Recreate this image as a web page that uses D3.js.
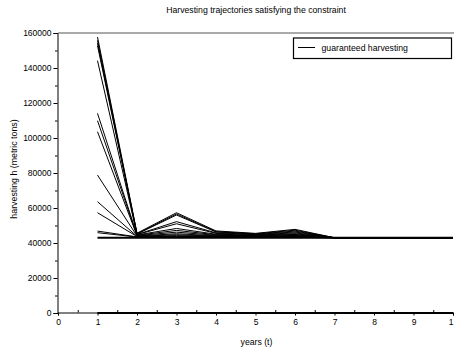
<!DOCTYPE html>
<html><head><meta charset="utf-8">
<script src="https://cdn.jsdelivr.net/npm/d3@7"></script>
<style>
body{margin:0;background:#fff;}
text{font-family:"Liberation Sans",Arial,Helvetica,sans-serif;fill:#000;}
</style></head>
<body>
<svg id="c" width="454" height="352"></svg>
<script>
const years = [1,2,3,4,5,6,7,8,9,10];
// harvesting trajectories (metric tons), one array per trajectory
const traj01 = [157700,45600,57300,46900,45500,47800,43000,43000,43000,43000];
const traj02 = [155800,45300,56600,46500,45300,47300,43000,43000,43000,43000];
const traj03 = [154300,45100,56000,46300,45100,46800,43000,43000,43000,43000];
const traj04 = [152800,44900,52200,45800,44900,46300,43000,43000,43000,43000];
const traj05 = [144200,44800,51000,45500,44700,45800,43000,43000,43000,43000];
const traj06 = [114100,44600,48300,45000,44500,45300,43000,43000,43000,43000];
const traj07 = [109900,44400,47200,44700,44300,44900,43000,43000,43000,43000];
const traj08 = [103600,44200,46200,44400,44100,44600,43000,43000,43000,43000];
const traj09 = [78800,44000,45300,44100,43900,44300,43000,43000,43000,43000];
const traj10 = [63600,43800,44700,43900,43700,44000,43000,43000,43000,43000];
const traj11 = [57300,43700,44200,43700,43500,43700,43000,43000,43000,43000];
const traj12 = [46800,43500,43800,43500,43300,43400,43000,43000,43000,43000];
const traj13 = [45900,43400,43500,43300,43200,43200,43000,43000,43000,43000];
const trajectories = [traj01,traj02,traj03,traj04,traj05,traj06,traj07,traj08,traj09,traj10,traj11,traj12,traj13];
const guaranteed = [43000,43000,43000,43000,43000,43000,43000,43000,43000,43000];
const zeroLine = [0,0,0,0,0,0,0,0,0,0];
const xTicks = [0,1,2,3,4,5,6,7,8,9,10];
const xTickLabels = ["0","1","2","3","4","5","6","7","8","9","1"];
const yTicks = [0,20000,40000,60000,80000,100000,120000,140000,160000];
const title = "Harvesting trajectories satisfying the constraint";
const xLabel = "years (t)";
const yLabel = "harvesting h  (metric tons)";
const legendLabel = "guaranteed harvesting";

const svg = d3.select("#c");
const x = d3.scaleLinear().domain([0,10]).range([58,453]);
const y = d3.scaleLinear().domain([0,160000]).range([313,33]);

// frame top
svg.append("line").attr("x1",58).attr("x2",454).attr("y1",33).attr("y2",33)
  .attr("stroke","#555").attr("stroke-width",1);

// y axis
const yAxis = d3.axisLeft(y).tickValues(yTicks).tickFormat(d3.format("d")).tickSize(4).tickPadding(2);
const gy = svg.append("g").attr("transform","translate(57.5,0)").call(yAxis);
gy.select(".domain").attr("stroke","#000");
gy.selectAll("text").attr("font-size","8.5px").attr("font-family","Liberation Sans, Arial, sans-serif");
const yMinor = d3.range(10000,160000,20000);
gy.selectAll(".minor").data(yMinor).enter().append("line")
  .attr("x1",-2.5).attr("x2",0).attr("y1",d=>y(d)+0.5).attr("y2",d=>y(d)+0.5).attr("stroke","#000");

// x axis
const xAxis = d3.axisBottom(x).tickValues(xTicks).tickFormat((d,i)=>xTickLabels[i]).tickSize(3).tickPadding(3);
const gx = svg.append("g").attr("transform","translate(0,312.5)").call(xAxis);
gx.select(".domain").attr("stroke","#000");
gx.selectAll("text").attr("font-size","8.5px").attr("font-family","Liberation Sans, Arial, sans-serif");
gx.selectAll(".tick").filter(d=>d===10).select("text").attr("dx","-2.5");
const xMinor = d3.range(0.5,10,1);
gx.selectAll(".minor").data(xMinor).enter().append("line")
  .attr("x1",d=>x(d)+0.5).attr("x2",d=>x(d)+0.5).attr("y1",-2.5).attr("y2",0).attr("stroke","#000");

const line = d3.line().x((d,i)=>x(years[i])).y(d=>y(d));

svg.append("g").selectAll("path").data(trajectories).enter().append("path")
  .attr("d",line).attr("fill","none").attr("stroke","#000").attr("stroke-width",1);

svg.append("path").datum(guaranteed).attr("d",line).attr("fill","none")
  .attr("stroke","#000").attr("stroke-width",2);
svg.append("path").datum(zeroLine).attr("d",line).attr("fill","none")
  .attr("stroke","#000").attr("stroke-width",2);

// title & labels
svg.append("text").attr("x",256).attr("y",12.5).attr("text-anchor","middle")
  .attr("font-size","8.7px").text(title);
svg.append("text").attr("x",256.5).attr("y",345).attr("text-anchor","middle")
  .attr("font-size","8.7px").text(xLabel);
svg.append("text").attr("transform","translate(16.5,169) rotate(-90)").attr("text-anchor","middle")
  .attr("font-size","8.8px").text(yLabel);

// legend
svg.append("rect").attr("x",293.5).attr("y",38).attr("width",158).attr("height",20.5)
  .attr("fill","#fff").attr("stroke","#000").attr("stroke-width",1.2);
svg.append("line").attr("x1",298).attr("x2",315).attr("y1",47.5).attr("y2",47.5)
  .attr("stroke","#000").attr("stroke-width",1);
svg.append("text").attr("x",321.5).attr("y",50.8).attr("font-size","8.7px").text(legendLabel);
</script>
</body></html>
